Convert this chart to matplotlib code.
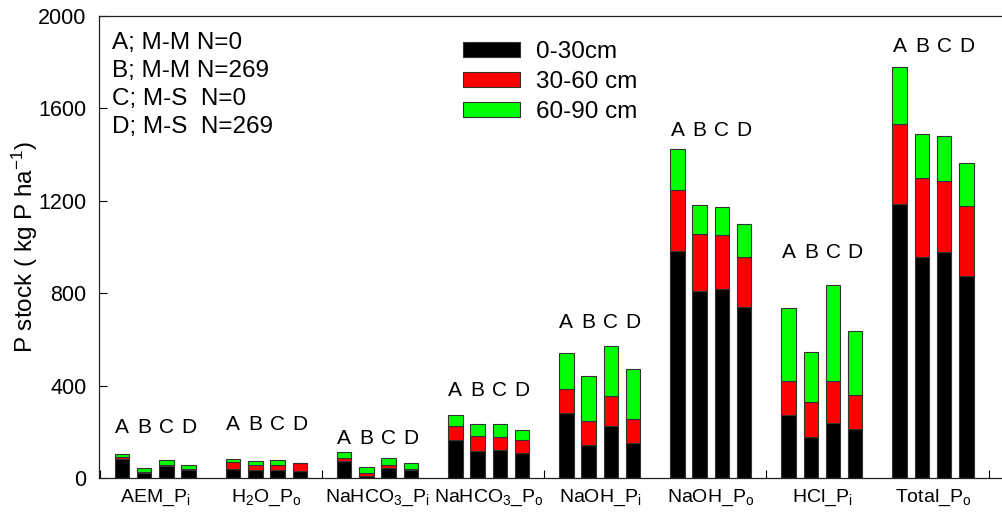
import numpy as np
import matplotlib
matplotlib.use("Agg")
import matplotlib.pyplot as plt

plt.rcParams['font.family'] = ['Liberation Sans', 'DejaVu Sans']
plt.rcParams['mathtext.fontset'] = 'custom'
plt.rcParams['mathtext.rm'] = 'Liberation Sans'
plt.rcParams['mathtext.it'] = 'Liberation Sans:italic'

# P fractions (x-axis groups)
fractions = ["AEM_P$_\\mathrm{i}$", "H$_\\mathrm{2}$O_P$_\\mathrm{o}$",
             "NaHCO$_\\mathrm{3}$_P$_\\mathrm{i}$", "NaHCO$_\\mathrm{3}$_P$_\\mathrm{o}$",
             "NaOH_P$_\\mathrm{i}$", "NaOH_P$_\\mathrm{o}$",
             "HCl_P$_\\mathrm{i}$", "Total_P$_\\mathrm{o}$"]
treatments = ["A", "B", "C", "D"]
depths = ["0-30cm", "30-60 cm", "60-90 cm"]

# P stock (kg P/ha) per fraction, treatments A..D
d0_30 = [[83, 22, 50, 33], [39, 35, 35, 30], [74, 10, 45, 33], [166, 117, 122, 108],
         [283, 142, 225, 150], [983, 808, 817, 740], [274, 176, 238, 213],
         [1186, 958, 978, 876]]
d30_60 = [[8, 3, 7, 7], [29, 21, 21, 33], [13, 12, 11, 7], [57, 66, 57, 56],
          [101, 105, 129, 107], [262, 247, 234, 218], [144, 153, 180, 145],
          [345, 339, 309, 303]]
d60_90 = [[13, 18, 22, 15], [16, 19, 23, 2], [27, 26, 32, 25], [51, 52, 56, 45],
          [159, 195, 219, 215], [179, 126, 121, 140], [319, 215, 417, 278],
          [250, 191, 192, 186]]

# height of the A B C D letters above each group
letter_y = [220, 233, 173, 377, 675, 1506, 978, 1870]

treat_notes = ["A; M-M N=0", "B; M-M N=269", "C; M-S  N=0", "D; M-S  N=269"]

colors = ["#000000", "#ff0000", "#00ff00"]

W, H = 1003, 517
fig = plt.figure(figsize=(W / 100, H / 100), dpi=100)
ax = fig.add_axes([99 / W, 39 / H, 1 - 99 / W, 462 / H])

offsets = np.array([-0.3, -0.1, 0.1, 0.3])
width = 0.13
layers = [np.array(d0_30), np.array(d30_60), np.array(d60_90)]

for g in range(len(fractions)):
    xs = g + offsets
    bottom = np.zeros(4)
    for k, layer in enumerate(layers):
        ax.bar(xs, layer[g], width, bottom=bottom, color=colors[k],
               edgecolor="#333333", linewidth=0.8,
               label=depths[k] if g == 0 else None, zorder=2)
        bottom = bottom + layer[g]
    for j, t in enumerate(treatments):
        ax.text(xs[j], letter_y[g], t, ha="center", va="center", fontsize=15)

ax.set_xlim(-0.507, 7.63)
ax.set_ylim(0, 2000)
ax.set_yticks(np.arange(0, 2001, 400))
ax.set_xticks([-0.5, 1.5, 3.5, 5.5, 7.5])
ax.set_xticklabels([])
ax.set_xticks(np.arange(len(fractions)), fractions, minor=True)
ax.tick_params(axis="x", which="major", direction="in", length=6, width=0.8)
ax.tick_params(axis="x", which="minor", length=0, pad=7, labelsize=14)
ax.tick_params(axis="y", direction="in", length=6, width=0.8, labelsize=15.5, pad=9)
ax.spines["right"].set_visible(False)
for s in ["left", "bottom", "top"]:
    ax.spines[s].set_linewidth(0.9)
    ax.spines[s].set_color("#222222")

ax.set_ylabel("P stock ( kg P ha$^{-1}$)", fontsize=17.5, labelpad=-1)

for i, note in enumerate(treat_notes):
    fig.text(112 / W, 1 - (43 + 28 * i) / H, note, fontsize=17.5, va="center", ha="left")

leg = ax.legend(loc="upper left", bbox_to_anchor=(463 / W, 1 - 41 / H),
                bbox_transform=fig.transFigure, frameon=False, fontsize=17.5,
                handlelength=2.35, handleheight=0.57, handletextpad=0.64,
                labelspacing=0.33, borderpad=0, borderaxespad=0)

fig.savefig("out.png", dpi=100)
